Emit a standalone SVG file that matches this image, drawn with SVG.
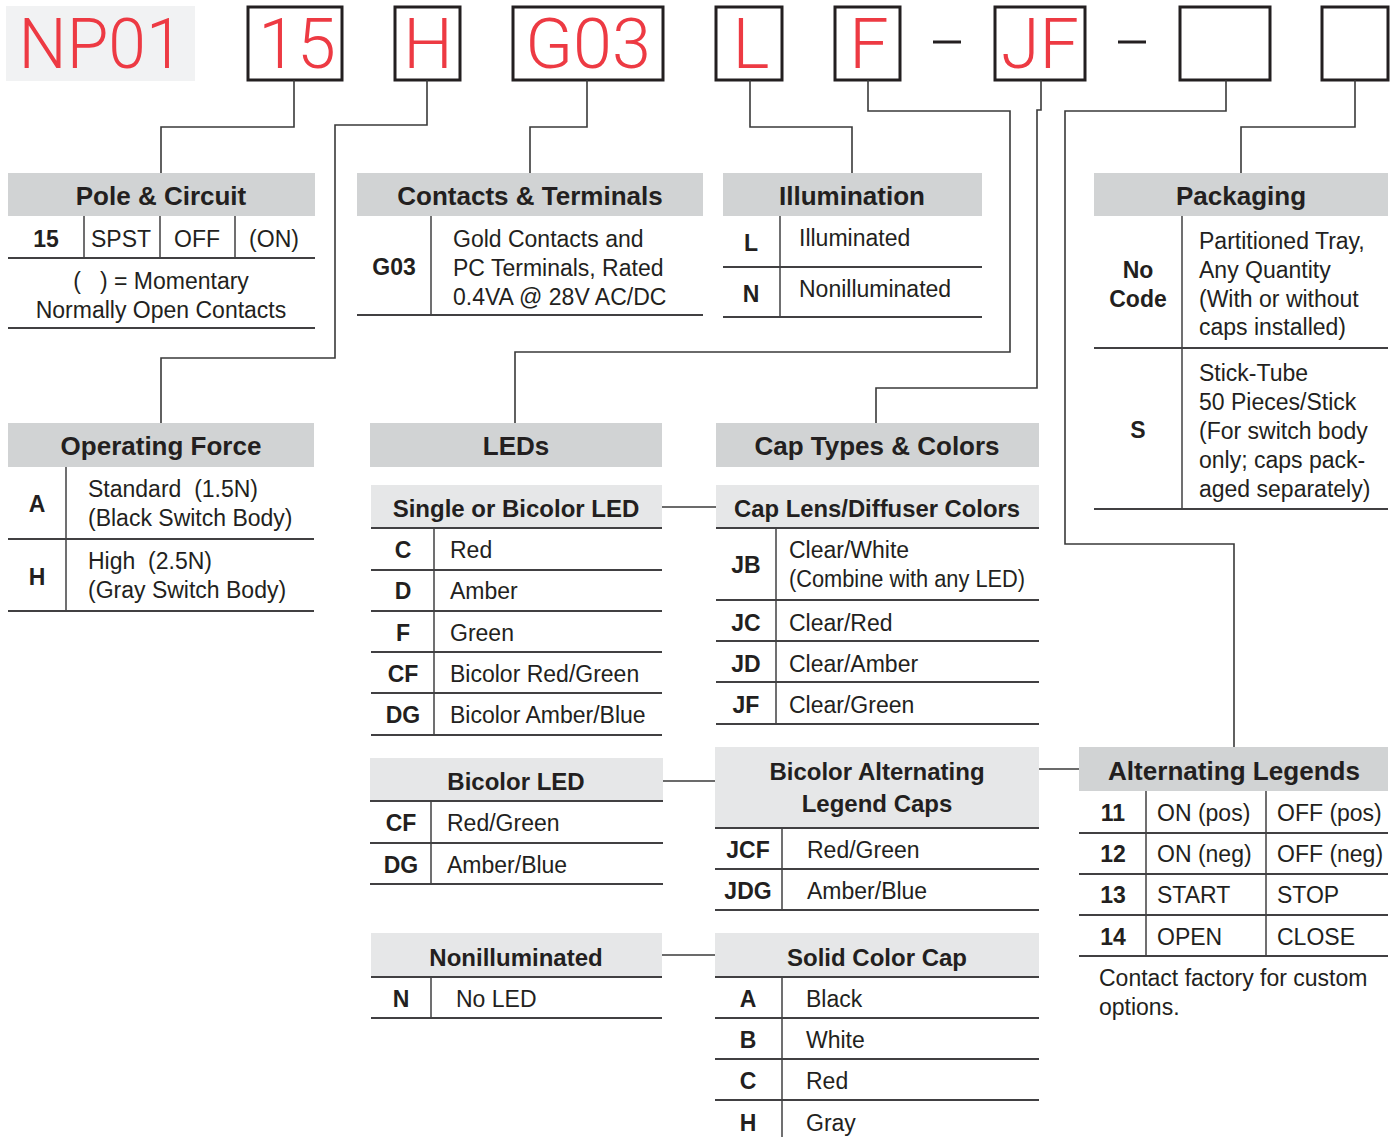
<svg xmlns="http://www.w3.org/2000/svg" width="1392" height="1137" viewBox="0 0 1392 1137">
<style>
text{font-family:"Liberation Sans",Arial,sans-serif;fill:#231f20}
.t{font-size:23px}
.b{font-size:23px;font-weight:bold;text-anchor:middle}
.m{text-anchor:middle}
.h{font-size:26px;font-weight:bold;text-anchor:middle}
.s{font-size:24px;font-weight:bold;text-anchor:middle}
.hd{fill:#d1d3d4}
.sh{fill:#e6e7e8}
.ln{stroke:#414042;stroke-width:2;fill:none}
.dv{stroke:#414042;stroke-width:1.5;fill:none}
.bx{fill:#fff;stroke:#231f20;stroke-width:3}
.red{font-family:Roboto,"Liberation Sans",sans-serif;font-weight:300;font-size:70px;fill:#ed3a43;text-anchor:middle}
.c{stroke:#3a3a3a;stroke-width:1.6;fill:none}
</style>

<g id="part-number">
<rect x="6" y="6" width="189" height="75" fill="#f1f2f3"/>
<text class="red" x="101" y="68" textLength="165" lengthAdjust="spacingAndGlyphs">NP01</text>
<rect class="bx" x="248" y="7" width="94" height="73"/>
<text class="red" x="297" y="68">15</text>
<rect class="bx" x="395" y="7" width="65" height="73"/>
<text class="red" x="428" y="68">H</text>
<rect class="bx" x="513" y="7" width="150" height="73"/>
<text class="red" x="588" y="68">G03</text>
<rect class="bx" x="716" y="7" width="66" height="73"/>
<text class="red" x="751" y="68">L</text>
<rect class="bx" x="835" y="7" width="65" height="73"/>
<text class="red" x="869" y="68">F</text>
<line x1="933" y1="42" x2="961" y2="42" stroke="#231f20" stroke-width="3"/>
<rect class="bx" x="995" y="7" width="90" height="73"/>
<text class="red" x="1040" y="68">JF</text>
<line x1="1118" y1="42" x2="1146" y2="42" stroke="#231f20" stroke-width="3"/>
<rect class="bx" x="1180" y="7" width="90" height="73"/>
<rect class="bx" x="1322" y="7" width="66" height="73"/>
</g>

<g id="connectors">
<path class="c" d="M294 80V127H161V173"/>
<path class="c" d="M427 80V125H335V358H161V423"/>
<path class="c" d="M587 80V127H530V173"/>
<path class="c" d="M750 80V127H852V173"/>
<path class="c" d="M868 80V111H1010V352H515V423"/>
<path class="c" d="M1041 80V110H1037V388H876V423"/>
<path class="c" d="M1226 80V111H1065V544H1234V747"/>
<path class="c" d="M1355 80V127H1241V173"/>
<path class="c" d="M662 507H716"/>
<path class="c" d="M663 781H715"/>
<path class="c" d="M1039 769H1079"/>
<path class="c" d="M662 955H715"/>
</g>

<g id="pole-circuit">
<rect class="hd" x="8" y="173" width="307" height="43"/>
<text class="h" x="161" y="205">Pole &amp; Circuit</text>
<text class="b" x="46" y="247">15</text>
<text class="t m" x="121" y="247">SPST</text>
<text class="t m" x="197" y="247">OFF</text>
<text class="t m" x="274" y="247">(ON)</text>
<path class="dv" d="M84 216V258M160 216V258M235 216V258"/>
<path class="ln" d="M8 258H315M8 328H315"/>
<text class="t m" x="161" y="289">(&#160;&#160;&#160;) = Momentary</text>
<text class="t m" x="161" y="318">Normally Open Contacts</text>
</g>

<g id="contacts-terminals">
<rect class="hd" x="357" y="173" width="346" height="43"/>
<text class="h" x="530" y="205">Contacts &amp; Terminals</text>
<path class="dv" d="M431 216V315"/>
<text class="b" x="394" y="275">G03</text>
<text class="t" x="453" y="247">Gold Contacts and</text>
<text class="t" x="453" y="276">PC Terminals, Rated</text>
<text class="t" x="453" y="305">0.4VA @ 28V AC/DC</text>
<path class="ln" d="M357 315H703"/>
</g>

<g id="illumination">
<rect class="hd" x="723" y="173" width="259" height="43"/>
<text class="h" x="852" y="205">Illumination</text>
<path class="dv" d="M780 216V317"/>
<text class="b" x="751" y="251">L</text>
<text class="t" x="799" y="246">Illuminated</text>
<path class="ln" d="M723 267H982"/>
<text class="b" x="751" y="302">N</text>
<text class="t" x="799" y="297">Nonilluminated</text>
<path class="ln" d="M723 317H982"/>
</g>

<g id="packaging">
<rect class="hd" x="1094" y="173" width="294" height="43"/>
<text class="h" x="1241" y="205">Packaging</text>
<path class="dv" d="M1182 216V509"/>
<text class="b" x="1138" y="278">No</text>
<text class="b" x="1138" y="307">Code</text>
<text class="t" x="1199" y="249">Partitioned Tray,</text>
<text class="t" x="1199" y="278">Any Quantity</text>
<text class="t" x="1199" y="307">(With or without</text>
<text class="t" x="1199" y="335">caps installed)</text>
<path class="ln" d="M1094 348H1388"/>
<text class="b" x="1138" y="438">S</text>
<text class="t" x="1199" y="381">Stick-Tube</text>
<text class="t" x="1199" y="410">50 Pieces/Stick</text>
<text class="t" x="1199" y="439">(For switch body</text>
<text class="t" x="1199" y="468">only; caps pack-</text>
<text class="t" x="1199" y="497">aged separately)</text>
<path class="ln" d="M1094 509H1388"/>
</g>

<g id="operating-force">
<rect class="hd" x="8" y="423" width="306" height="44"/>
<text class="h" x="161" y="455">Operating Force</text>
<path class="dv" d="M66 467V611"/>
<text class="b" x="37" y="512">A</text>
<text class="t" x="88" y="497" xml:space="preserve">Standard  (1.5N)</text>
<text class="t" x="88" y="526">(Black Switch Body)</text>
<path class="ln" d="M8 539H314"/>
<text class="b" x="37" y="585">H</text>
<text class="t" x="88" y="569" xml:space="preserve">High  (2.5N)</text>
<text class="t" x="88" y="598">(Gray Switch Body)</text>
<path class="ln" d="M8 611H314"/>
</g>

<g id="leds">
<rect class="hd" x="370" y="423" width="292" height="44"/>
<text class="h" x="516" y="455">LEDs</text>
</g>

<g id="single-bicolor-led">
<rect class="sh" x="371" y="485" width="291" height="43"/>
<text class="s" x="516" y="517">Single or Bicolor LED</text>
<path class="ln" d="M371 528H662M371 570H662M371 611H662M371 652H662M371 693H662M371 735H662"/>
<path class="dv" d="M434 528V735"/>
<text class="b" x="403" y="558">C</text>
<text class="t" x="450" y="558">Red</text>
<text class="b" x="403" y="599">D</text>
<text class="t" x="450" y="599">Amber</text>
<text class="b" x="403" y="641">F</text>
<text class="t" x="450" y="641">Green</text>
<text class="b" x="403" y="682">CF</text>
<text class="t" x="450" y="682">Bicolor Red/Green</text>
<text class="b" x="403" y="723">DG</text>
<text class="t" x="450" y="723">Bicolor Amber/Blue</text>
</g>

<g id="cap-types-colors">
<rect class="hd" x="716" y="423" width="323" height="44"/>
<text class="h" x="877" y="455">Cap Types &amp; Colors</text>
</g>

<g id="cap-lens-diffuser">
<rect class="sh" x="716" y="485" width="323" height="43"/>
<text class="s" x="877" y="517" textLength="286" lengthAdjust="spacingAndGlyphs">Cap Lens/Diffuser Colors</text>
<path class="ln" d="M716 528H1039M716 600H1039M716 641H1039M716 682H1039M716 724H1039"/>
<path class="dv" d="M776 528V724"/>
<text class="b" x="746" y="573">JB</text>
<text class="t" x="789" y="558">Clear/White</text>
<text class="t" x="789" y="587" textLength="236" lengthAdjust="spacingAndGlyphs">(Combine with any LED)</text>
<text class="b" x="746" y="631">JC</text>
<text class="t" x="789" y="631">Clear/Red</text>
<text class="b" x="746" y="672">JD</text>
<text class="t" x="789" y="672">Clear/Amber</text>
<text class="b" x="746" y="713">JF</text>
<text class="t" x="789" y="713">Clear/Green</text>
</g>

<g id="bicolor-led">
<rect class="sh" x="370" y="758" width="293" height="43"/>
<text class="s" x="516" y="790">Bicolor LED</text>
<path class="ln" d="M370 801H663M370 843H663M370 884H663"/>
<path class="dv" d="M431 801V884"/>
<text class="b" x="401" y="831">CF</text>
<text class="t" x="447" y="831">Red/Green</text>
<text class="b" x="401" y="873">DG</text>
<text class="t" x="447" y="873">Amber/Blue</text>
</g>

<g id="bicolor-alternating">
<rect class="sh" x="715" y="747" width="324" height="81"/>
<text class="s" x="877" y="780">Bicolor Alternating</text>
<text class="s" x="877" y="812">Legend Caps</text>
<path class="ln" d="M715 828H1039M715 869H1039M715 910H1039"/>
<path class="dv" d="M782 828V910"/>
<text class="b" x="748" y="858">JCF</text>
<text class="t" x="807" y="858">Red/Green</text>
<text class="b" x="748" y="899">JDG</text>
<text class="t" x="807" y="899">Amber/Blue</text>
</g>

<g id="nonilluminated">
<rect class="sh" x="371" y="933" width="291" height="44"/>
<text class="s" x="516" y="966">Nonilluminated</text>
<path class="ln" d="M371 977H662M371 1018H662"/>
<path class="dv" d="M431 977V1018"/>
<text class="b" x="401" y="1007">N</text>
<text class="t" x="456" y="1007">No LED</text>
</g>

<g id="solid-color-cap">
<rect class="sh" x="715" y="933" width="324" height="44"/>
<text class="s" x="877" y="966">Solid Color Cap</text>
<path class="ln" d="M715 977H1039M715 1018H1039M715 1059H1039M715 1100H1039"/>
<path class="dv" d="M782 977V1137"/>
<text class="b" x="748" y="1007">A</text>
<text class="t" x="806" y="1007">Black</text>
<text class="b" x="748" y="1048">B</text>
<text class="t" x="806" y="1048">White</text>
<text class="b" x="748" y="1089">C</text>
<text class="t" x="806" y="1089">Red</text>
<text class="b" x="748" y="1131">H</text>
<text class="t" x="806" y="1131">Gray</text>
</g>

<g id="alternating-legends">
<rect class="hd" x="1079" y="747" width="309" height="44"/>
<text class="h" x="1234" y="780" textLength="252" lengthAdjust="spacingAndGlyphs">Alternating Legends</text>
<path class="dv" d="M1146 791V956M1266 791V956"/>
<path class="ln" d="M1079 833H1388M1079 874H1388M1079 915H1388M1079 956H1388"/>
<text class="b" x="1113" y="821">11</text>
<text class="t" x="1157" y="821">ON (pos)</text>
<text class="t" x="1277" y="821">OFF (pos)</text>
<text class="b" x="1113" y="862">12</text>
<text class="t" x="1157" y="862">ON (neg)</text>
<text class="t" x="1277" y="862">OFF (neg)</text>
<text class="b" x="1113" y="903">13</text>
<text class="t" x="1157" y="903">START</text>
<text class="t" x="1277" y="903">STOP</text>
<text class="b" x="1113" y="945">14</text>
<text class="t" x="1157" y="945">OPEN</text>
<text class="t" x="1277" y="945">CLOSE</text>
<text class="t" x="1099" y="986">Contact factory for custom</text>
<text class="t" x="1099" y="1015">options.</text>
</g>
</svg>
